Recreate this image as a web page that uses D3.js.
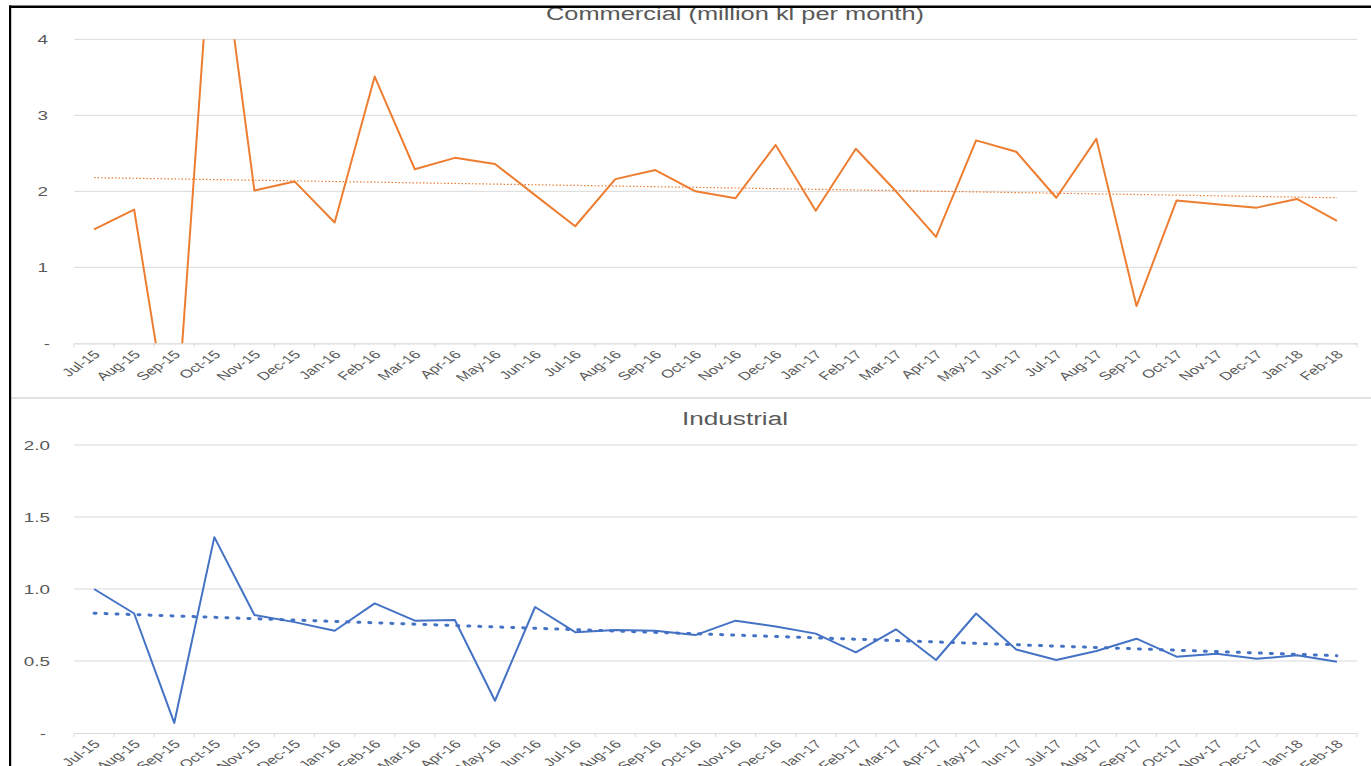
<!DOCTYPE html>
<html>
<head>
<meta charset="utf-8">
<script src="https://cdn.jsdelivr.net/npm/d3@7"></script>
<style>
  html, body { margin: 0; padding: 0; background: #fff; overflow: hidden; }
  svg { display: block; }
  text { font-family: "Liberation Sans", Arial, sans-serif; fill: #595959; }
</style>
</head>
<body>
<svg id="chart" width="1371" height="766"></svg>
<script>
// ---------- data ----------
const months = ["Jul-15","Aug-15","Sep-15","Oct-15","Nov-15","Dec-15",
  "Jan-16","Feb-16","Mar-16","Apr-16","May-16","Jun-16","Jul-16","Aug-16","Sep-16","Oct-16","Nov-16","Dec-16",
  "Jan-17","Feb-17","Mar-17","Apr-17","May-17","Jun-17","Jul-17","Aug-17","Sep-17","Oct-17","Nov-17","Dec-17",
  "Jan-18","Feb-18"];

const commercial = [1.50, 1.76, -1.5, 6.0, 2.01, 2.13,
  1.59, 3.51, 2.29, 2.44, 2.36, 1.95, 1.54, 2.16, 2.28, 2.0, 1.91, 2.61,
  1.745, 2.56, 2.0, 1.40, 2.67, 2.52, 1.915, 2.69, 0.49, 1.88, 1.83, 1.785,
  1.90, 1.61];

const industrial = [1.00, 0.83, 0.07, 1.36, 0.82, 0.77,
  0.71, 0.90, 0.78, 0.785, 0.224, 0.875, 0.70, 0.715, 0.71, 0.68, 0.78, 0.74,
  0.69, 0.56, 0.72, 0.507, 0.83, 0.58, 0.507, 0.57, 0.655, 0.53, 0.55, 0.515,
  0.54, 0.495];

const commercialTrend = [2.18, 1.915];   // trendline start / end values
const industrialTrend = [0.832, 0.537];

const commercialTicks = [0, 1, 2, 3, 4];
const commercialTickLabels = ["-", "1", "2", "3", "4"];
const industrialTicks = [0, 0.5, 1.0, 1.5, 2.0];
const industrialTickLabels = ["-", "0.5", "1.0", "1.5", "2.0"];

const commercialTitle = "Commercial (million kl per month)";
const industrialTitle = "Industrial";

// ---------- drawing ----------
const svg = d3.select("#chart");
const SX = 1.45; // horizontal stretch of the original picture
const gridColor = "#d9d9d9";

const x = d3.scaleBand().domain(months).range([74, 1357]).paddingInner(0).paddingOuter(0);
const cx = m => x(m) + x.bandwidth() / 2;

function panel(cfg) {
  const { y, values, trend, ticks, tickLabels, color, lineWidth, trendWidth, trendDash,
          labelRight, dashRight, title, titleY, titleLen, clipId } = cfg;
  const g = svg.append("g");
  const [y0, y1] = y.range();

  // gridlines
  g.selectAll("line.grid").data(ticks.filter(t => t !== 0)).enter().append("line")
    .attr("x1", x.range()[0]).attr("x2", x.range()[1])
    .attr("y1", d => y(d)).attr("y2", d => y(d))
    .attr("stroke", gridColor).attr("stroke-width", 1);

  // axis line + tick marks
  const ax = d3.axisBottom(x).tickSize(0).tickFormat("");
  const axG = g.append("g").attr("transform", `translate(0,${y(0)})`).call(ax);
  axG.select(".domain").attr("stroke", gridColor).attr("stroke-width", 1.2);
  axG.selectAll(".tick").remove();
  const bounds = months.map(m => x(m)).concat([x.range()[1]]);
  g.selectAll("line.tk").data(bounds).enter().append("line")
    .attr("x1", d => d).attr("x2", d => d)
    .attr("y1", y(0)).attr("y2", y(0) + 4)
    .attr("stroke", gridColor).attr("stroke-width", 1);

  // x labels
  g.selectAll("text.xl").data(months).enter().append("text")
    .attr("transform", d => `translate(${cx(d) + 3},${y(0) + 9}) scale(${SX},1) rotate(-45)`)
    .attr("text-anchor", "end").attr("dy", "0.35em")
    .style("font-size", "11.5px")
    .text(d => d);

  // y labels
  g.selectAll("text.yl").data(ticks).enter().append("text")
    .attr("transform", (d, i) => `translate(${d === 0 ? dashRight : labelRight},${y(d)}) scale(${SX},1)`)
    .attr("text-anchor", "end").attr("dy", "0.35em")
    .style("font-size", "13px")
    .text((d, i) => tickLabels[i]);

  // clip
  svg.append("clipPath").attr("id", clipId).append("rect")
    .attr("x", x.range()[0]).attr("width", x.range()[1] - x.range()[0])
    .attr("y", Math.min(y0, y1)).attr("height", Math.abs(y0 - y1));

  // trend line
  const tl = d3.line().x(d => d[0]).y(d => y(d[1]));
  g.append("path")
    .datum([[cx(months[0]), trend[0]], [cx(months[months.length - 1]), trend[1]]])
    .attr("d", tl).attr("fill", "none").attr("stroke", color)
    .attr("stroke-width", trendWidth).attr("stroke-dasharray", trendDash)
    .attr("stroke-linecap", trendWidth > 2 ? "round" : "butt");

  // data line
  const line = d3.line().x((d, i) => cx(months[i])).y(d => y(d));
  g.append("path").datum(values)
    .attr("clip-path", `url(#${clipId})`)
    .attr("d", line).attr("fill", "none").attr("stroke", color)
    .attr("stroke-width", lineWidth).attr("stroke-linejoin", "round");

  // title
  g.append("text").attr("x", 735).attr("y", titleY)
    .attr("text-anchor", "middle").style("font-size", "18px")
    .attr("textLength", titleLen).attr("lengthAdjust", "spacingAndGlyphs")
    .text(title);
}

panel({
  y: d3.scaleLinear().domain([0, 4]).range([343.3, 39.3]),
  values: commercial, trend: commercialTrend,
  ticks: commercialTicks, tickLabels: commercialTickLabels,
  color: "#ED7D31", lineWidth: 2, trendWidth: 1.2, trendDash: "1.5 2",
  labelRight: 48, dashRight: 50,
  title: commercialTitle, titleY: 20, titleLen: 378, clipId: "clipTop"
});

panel({
  y: d3.scaleLinear().domain([0, 2]).range([733, 445]),
  values: industrial, trend: industrialTrend,
  ticks: industrialTicks, tickLabels: industrialTickLabels,
  color: "#4472C4", lineWidth: 2, trendWidth: 3, trendDash: "2 9",
  labelRight: 50, dashRight: 46,
  title: industrialTitle, titleY: 425, titleLen: 106, clipId: "clipBot"
});

// divider between the two charts
svg.append("line").attr("x1", 10).attr("x2", 1371).attr("y1", 398).attr("y2", 398)
  .attr("stroke", gridColor).attr("stroke-width", 1.5);

// frame (picture edges)
svg.append("rect").attr("x", 0).attr("y", 0).attr("width", 1371).attr("height", 5.5).attr("fill", "#fff");
svg.append("rect").attr("x", 0).attr("y", 0).attr("width", 9).attr("height", 766).attr("fill", "#fff");
svg.append("rect").attr("x", 9).attr("y", 5.5).attr("width", 1362).attr("height", 2.5).attr("fill", "#000");
svg.append("rect").attr("x", 9).attr("y", 5.5).attr("width", 2.2).attr("height", 760.5).attr("fill", "#000");
</script>
</body>
</html>
